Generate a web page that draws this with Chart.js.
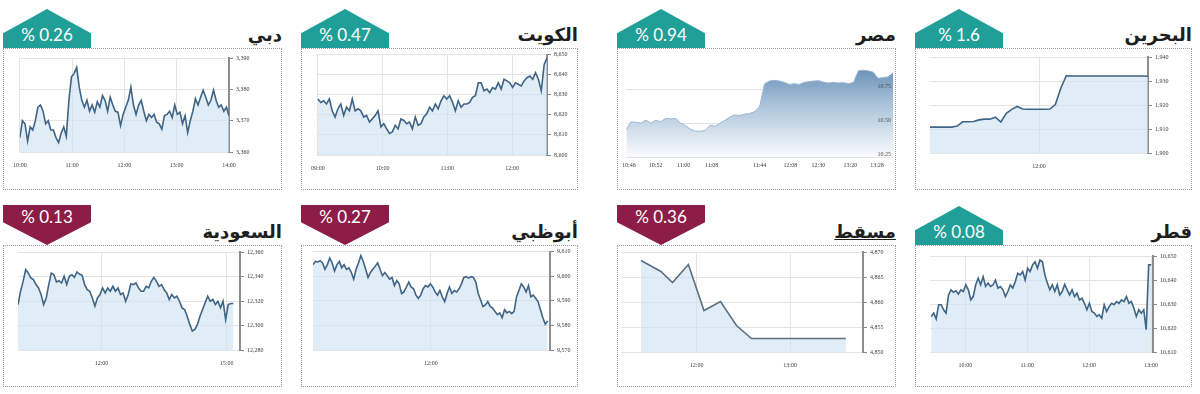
<!DOCTYPE html>
<html>
<head>
<meta charset="utf-8">
<script src="https://cdn.jsdelivr.net/npm/chart.js@4/dist/chart.umd.min.js"></script>
<style>
  body { margin: 0; width: 1200px; height: 394px; background: #fff; position: relative; overflow: hidden; }
  .box { position: absolute; border: 1px dotted #9c9c9c; box-sizing: border-box; }
  canvas.panel { position: absolute; }
  .badge { position: absolute; width: 88px; color: #fff; font: 17px Lato, sans-serif; text-align: center; direction: ltr; line-height: 18px; }
  .badge.up { height: 39px; background: #1f9f98; clip-path: polygon(0 62%, 50% 0, 100% 62%, 100% 100%, 0 100%); }
  .badge.up span { position: absolute; left: 0; right: 0; top: 17px; }
  .badge.down { height: 40px; background: #8c1d46; clip-path: polygon(0 0, 100% 0, 100% 43%, 50% 100%, 0 43%); }
  .badge.down span { position: absolute; left: 0; right: 0; top: 3px; }
  .title { position: absolute; font: bold 18px "DejaVu Sans", sans-serif; color: #1e1e1e; direction: rtl; line-height: 26px; white-space: nowrap; }
</style>
</head>
<body>
<script>
// ---- data ----
const dubaiTimes = ['10:00', '11:00', '12:00', '13:00', '14:00'];
const dubaiTicks = [3360, 3370, 3380, 3390];
const dubaiValues = [3364.6, 3370, 3369, 3363.5, 3368, 3367, 3370, 3374.3, 3375, 3373, 3369, 3370, 3367, 3367, 3364.6, 3363,
  3366, 3368, 3365, 3376.5, 3384, 3385, 3387, 3380.7, 3376.5, 3374.3, 3376.5, 3373, 3375, 3372.7, 3376, 3374.3, 3378,
  3376.5, 3373, 3377.5, 3375, 3373, 3372.7, 3368.4, 3372, 3374.3, 3376.5, 3380.7, 3375, 3372, 3375, 3376.5, 3373, 3370,
  3372, 3371, 3372, 3369.5, 3369, 3367.3, 3371.6, 3372, 3373, 3371, 3375, 3372, 3372.7, 3369, 3371.6, 3366.2, 3370, 3373,
  3377, 3375, 3377.5, 3379.7, 3377.5, 3375, 3376.5, 3379.7, 3376.5, 3374.3, 3375, 3373, 3374.3, 3371.6];

const kuwaitTimes = ['09:00', '10:00', '11:00', '12:00'];
const kuwaitTicks = [8600, 8610, 8620, 8630, 8640, 8650];
const kuwaitValues = [8627.9, 8626.2, 8627, 8625.4, 8627.9, 8622, 8618.9, 8623, 8625.4, 8619.7, 8623.8, 8622, 8627.9, 8622,
  8623, 8622, 8618.9, 8619.7, 8616.4, 8618, 8619.7, 8622, 8614, 8615.6, 8613, 8610.7, 8611.5, 8614.8, 8613, 8618, 8617.2,
  8615.6, 8616.4, 8613, 8618.9, 8614.8, 8615.6, 8618.9, 8620.5, 8623.8, 8622, 8625.4, 8623, 8627, 8629.5, 8627.9, 8629.5,
  8626.2, 8622, 8627, 8623.8, 8625.4, 8625.4, 8626.2, 8628.7, 8629.5, 8636, 8636, 8632, 8632.8, 8631.1, 8633.6, 8632.8,
  8636, 8632.8, 8637.7, 8636.9, 8636, 8633.6, 8636, 8635.2, 8634.4, 8636.9, 8638.5, 8639.3, 8637.7, 8641, 8637.7, 8632,
  8645, 8648.4];

const egyptTimes = ['10:46', '10:52', '11:00', '11:08', '11:44', '12:08', '12:30', '13:20', '13:28'];
const egyptTickPos = [1, 11, 21.5, 32, 50, 61.5, 72, 84, 94];
const egyptTicks = [10.25, 10.5, 10.75];
const egyptValues = [10.45, 10.51, 10.505, 10.5, 10.52, 10.5, 10.52, 10.51, 10.535, 10.53, 10.535, 10.5, 10.48, 10.455,
  10.44, 10.44, 10.445, 10.485, 10.475, 10.5, 10.52, 10.545, 10.56, 10.555, 10.566, 10.57, 10.585, 10.62, 10.79, 10.81,
  10.815, 10.81, 10.8, 10.785, 10.79, 10.785, 10.8, 10.805, 10.81, 10.812, 10.8, 10.795, 10.8, 10.795, 10.798, 10.79,
  10.8, 10.885, 10.89, 10.885, 10.875, 10.83, 10.835, 10.84, 10.87];

const bahrainTimes = ['12:00'];
const bahrainTicks = [1900, 1910, 1920, 1930, 1940];
const bahrainValues = [1910.8, 1910.8, 1910.8, 1910.8, 1910.8, 1911.2, 1913, 1913, 1913.1, 1913.8, 1914.1, 1914.1, 1914.9,
  1912.9, 1916.5, 1918.2, 1919.4, 1918.3, 1918.2, 1918.2, 1918.2, 1918.2, 1918.3, 1920.2, 1927, 1932.2, 1932.1, 1932.1,
  1932.1, 1932.1, 1932.1, 1932.1, 1932.1, 1932.1, 1932.1, 1932.1, 1932.1, 1932.1, 1932.1, 1932.1, 1932];

const saudiTimes = ['12:00', '15:00'];
const saudiTicks = [12280, 12300, 12320, 12340, 12360];
const saudiValues = [12317, 12328, 12336, 12345.6, 12342.9, 12338.8, 12337.5, 12333.4, 12330.7, 12325.3, 12317.1, 12322.5,
  12333.4, 12342.9, 12341.5, 12335.6, 12336.6, 12334.7, 12340.2, 12333.4, 12340.2, 12341.5, 12339.3, 12343.7, 12342,
  12341, 12333.4, 12329.3, 12328, 12322.5, 12315.8, 12322.5, 12325.3, 12330.7, 12326.6, 12330.7, 12328, 12332, 12328,
  12330.7, 12325.3, 12326.6, 12319.8, 12325.3, 12333.9, 12333.4, 12334.7, 12330.7, 12328, 12328, 12332, 12330.7, 12336.1,
  12339.3, 12336.1, 12332, 12333.4, 12329.3, 12326.6, 12321.2, 12325.3, 12322.5, 12324, 12319.8, 12314.4, 12313, 12307.6,
  12300.9, 12295.4, 12296.8, 12300.9, 12307.6, 12313, 12318.5, 12323.9, 12319.8, 12321.2, 12317.1, 12319.8, 12314.4,
  12319.8, 12304.9, 12317.1, 12317.9, 12317.9];

const abuDhabiTimes = ['12:00'];
const abuDhabiTicks = [9570, 9580, 9590, 9600, 9610];
const abuDhabiValues = [9604.7, 9606, 9605.8, 9606.3, 9605.4, 9602.8, 9604.7, 9607.4, 9605.4, 9602.1, 9604.7, 9606, 9603.4,
  9604.7, 9602.8, 9603.4, 9601.5, 9598.8, 9602.8, 9605.4, 9608.4, 9606, 9602.8, 9599.5, 9601.5, 9602.8, 9604.1, 9605.4,
  9602.8, 9600.2, 9601.5, 9600.2, 9598.8, 9599.5, 9596.2, 9598.2, 9596.9, 9592.9, 9593.6, 9595.6, 9597.6, 9595.6, 9594.9,
  9592.3, 9591, 9592.3, 9594.9, 9596.2, 9595.6, 9596.9, 9595.6, 9593.6, 9592.3, 9594.2, 9591.6, 9589.7, 9593, 9595.6, 9593,
  9594.2, 9593.6, 9594.9, 9596.9, 9599.5, 9599.8, 9599.2, 9599.8, 9599.5, 9597.6, 9593, 9590.3, 9587.7, 9588.3, 9589.7,
  9587.7, 9587, 9585.7, 9584.4, 9585.1, 9583.1, 9586.4, 9585.1, 9585.7, 9584.8, 9585.7, 9591.6, 9594.2, 9596.9, 9595.6,
  9593.6, 9596.2, 9591.6, 9592.3, 9591, 9589.7, 9586.4, 9583.1, 9580.5, 9581.8];

const muscatTimes = ['12:00', '13:00'];
const muscatTicks = [4850, 4855, 4860, 4865, 4870];
const muscatHours = [11.404, 11.617, 11.741, 11.911, 12.078, 12.255, 12.426, 12.585, 13.596];
const muscatValues = [4868.3, 4866.1, 4863.9, 4867.5, 4858.3, 4860.1, 4855.3, 4852.7, 4852.7];

const qatarTimes = ['10:00', '11:00', '12:00', '13:00'];
const qatarTicks = [10610, 10620, 10630, 10640, 10650];
const qatarValues = [10624.8, 10626.2, 10623.8, 10629.7, 10629.7, 10627.6, 10626.2, 10633.8, 10635.9, 10634.9, 10635.5,
  10634.1, 10635.9, 10635.2, 10638, 10635.9, 10631.7, 10633.1, 10638, 10640.7, 10638, 10641.4, 10637.3, 10638.7, 10637.3,
  10638, 10640, 10636.6, 10637.3, 10635.9, 10633.1, 10635.2, 10638, 10636.6, 10639.3, 10642.8, 10642.1, 10643.5, 10640,
  10644.9, 10643.5, 10646.3, 10647.6, 10644.9, 10648.3, 10647.6, 10642.1, 10638.7, 10635.9, 10638, 10635.2, 10638, 10633.8,
  10635.2, 10638.2, 10635.9, 10633.8, 10635.9, 10633.1, 10634.5, 10631.7, 10632.4, 10630.3, 10627.6, 10630.3, 10626.9,
  10626.2, 10624.8, 10625.5, 10624.1, 10629.7, 10626.9, 10628.9, 10630.3, 10629.7, 10631, 10630.3, 10631.7, 10631, 10633.1,
  10630.3, 10631, 10628.3, 10624.8, 10627.6, 10626.2, 10627.6, 10619.3, 10646.3, 10646.3];

// ---- panels: layout and styling ----
const hourTicks = labels => labels.map(t => parseInt(t, 10) + parseInt(t.slice(3), 10) / 60);

const panels = [
  { name: 'دبي', change: '0.26', up: true, box: [3, 48, 282, 190], plot: [14, 58, 229, 152], axisW: 30,
    values: dubaiValues, from: 10, to: 14, xMin: 10, xMax: 14, xLabels: dubaiTimes, yTicks: dubaiTicks },
  { name: 'الكويت', change: '0.47', up: true, box: [301, 48, 578, 190], plot: [313, 53, 547, 155], axisW: 28,
    values: kuwaitValues, from: 9, to: 12.54, xMin: 8.98, xMax: 12.54, xLabels: kuwaitTimes, yTicks: kuwaitTicks },
  { name: 'مصر', change: '0.94', up: true, box: [617, 48, 896, 190], plot: [623, 62, 893, 157], axisW: 1,
    values: egyptValues, from: 0, to: 100, xMin: 0, xMax: 100, xLabels: egyptTimes, xPos: egyptTickPos,
    yTicks: egyptTicks, yMax: 10.95, egypt: true },
  { name: 'البحرين', change: '1.6', up: true, box: [915, 48, 1192, 190], plot: [930, 57, 1148, 153], axisW: 30,
    values: bahrainValues, from: 11, to: 13, xMin: 11, xMax: 13, xLabels: bahrainTimes, yTicks: bahrainTicks },
  { name: 'السعودية', change: '0.13', up: false, box: [3, 245, 282, 387], plot: [18, 252, 240, 350], axisW: 30,
    values: saudiValues, from: 10, to: 15.16, xMin: 10, xMax: 15.32, xLabels: saudiTimes, yTicks: saudiTicks },
  { name: 'أبوظبي', change: '0.27', up: false, box: [301, 245, 578, 387], plot: [313, 248, 550, 350], axisW: 26,
    values: abuDhabiValues, from: 10, to: 13.98, xMin: 10, xMax: 14.02, xLabels: abuDhabiTimes, yTicks: abuDhabiTicks },
  { name: 'مسقط', change: '0.36', up: false, box: [617, 245, 896, 387], plot: [621, 252, 863, 352], axisW: 30,
    values: muscatValues, hours: muscatHours, xMin: 11.19, xMax: 13.78, xLabels: muscatTimes, yTicks: muscatTicks,
    lineColor: '#5b6f82', underline: true },
  { name: 'قطر', change: '0.08', up: true, box: [915, 245, 1192, 387], plot: [930, 256, 1153, 352], axisW: 32,
    values: qatarValues, from: 9.45, to: 13.0, xMin: 9.43, xMax: 13.03, xLabels: qatarTimes, yTicks: qatarTicks }
];

const tickFont = { family: '"Liberation Serif", serif', size: 6 };

// Egypt's value labels sit inside the plot, drawn over the filled area
const insideLabels = {
  id: 'insideLabels',
  afterDatasetsDraw(chart, args, opts) {
    if (!opts.values) return;
    const { ctx, chartArea, scales } = chart;
    ctx.save();
    ctx.font = tickFont.size + 'px ' + tickFont.family;
    ctx.fillStyle = '#4a4a4a';
    ctx.textAlign = 'right';
    ctx.textBaseline = 'middle';
    opts.values.forEach(v => {
      ctx.fillText(v.toFixed(2), chartArea.right - 2, scales.y.getPixelForValue(v) - 3);
    });
    ctx.restore();
  }
};

function makePanel(p) {
  const [bl, bt, br, bb] = p.box;
  const [pl, pt, pr, pb] = p.plot;
  const w = br - bl, h = bb - bt;
  const axisH = 20;

  const box = document.createElement('div');
  box.className = 'box';
  Object.assign(box.style, { left: bl + 'px', top: bt + 'px', width: w + 'px', height: h + 'px' });
  document.body.appendChild(box);

  const canvas = document.createElement('canvas');
  canvas.className = 'panel';
  canvas.width = w; canvas.height = h;
  Object.assign(canvas.style, { left: bl + 'px', top: bt + 'px', width: w + 'px', height: h + 'px' });
  document.body.appendChild(canvas);

  const badge = document.createElement('div');
  badge.className = 'badge ' + (p.up ? 'up' : 'down');
  badge.style.left = bl + 'px';
  badge.style.top = (p.up ? bt - 39 : bt - 40) + 'px';
  badge.innerHTML = '<span>% ' + p.change + '</span>';
  document.body.appendChild(badge);

  const title = document.createElement('div');
  title.className = 'title';
  title.textContent = p.name;
  title.style.right = (1200 - br) + 'px';
  title.style.top = (bt - 26) + 'px';
  if (p.underline) title.style.textDecoration = 'underline';
  document.body.appendChild(title);

  const n = p.values.length;
  const points = p.values.map((v, i) => ({
    x: p.hours ? p.hours[i] : p.from + i * (p.to - p.from) / (n - 1),
    y: v
  }));
  const xTickValues = p.xPos || hourTicks(p.xLabels);

  const fill = p.egypt
    ? (ctx) => {
        const a = ctx.chart.chartArea;
        if (!a) return 'rgba(120,155,190,0.6)';
        const g = ctx.chart.ctx.createLinearGradient(0, a.top, 0, a.bottom);
        g.addColorStop(0, 'rgba(96,135,178,1)');
        g.addColorStop(0.45, 'rgba(170,195,218,1)');
        g.addColorStop(1, 'rgba(250,251,253,1)');
        return g;
      }
    : 'rgba(205, 226, 242, 0.62)';

  new Chart(canvas.getContext('2d'), {
    type: 'line',
    data: {
      datasets: [{
        data: points,
        borderColor: p.egypt ? '#9ab6d1' : (p.lineColor || '#3f6486'),
        borderWidth: p.egypt ? 1 : 1.6,
        backgroundColor: fill,
        fill: 'start',
        pointRadius: 0,
        tension: 0
      }]
    },
    plugins: [insideLabels],
    options: {
      responsive: false,
      animation: false,
      layout: {
        padding: { left: pl - bl, top: pt - bt, right: br - pr - p.axisW, bottom: bb - pb - axisH }
      },
      plugins: {
        legend: { display: false },
        tooltip: { enabled: false },
        insideLabels: { values: p.egypt ? egyptTicks : null }
      },
      scales: {
        x: {
          type: 'linear',
          min: p.xMin,
          max: p.xMax,
          afterBuildTicks: (s) => { s.ticks = xTickValues.map(v => ({ value: v })); },
          afterFit: (s) => { s.height = axisH; },
          ticks: {
            callback: (v, i) => p.xLabels[i],
            font: tickFont,
            color: '#3a3a3a',
            padding: p.egypt ? 5 : 10,
            maxRotation: 0,
            autoSkip: false
          },
          grid: { display: !p.egypt, color: '#e4e4e4', drawTicks: false },
          border: { display: false }
        },
        y: {
          position: 'right',
          min: p.yTicks[0],
          max: p.yMax || p.yTicks[p.yTicks.length - 1],
          afterBuildTicks: (s) => { s.ticks = p.yTicks.map(v => ({ value: v })); },
          afterFit: (s) => { s.width = p.axisW; },
          ticks: {
            display: !p.egypt,
            callback: (v) => v.toLocaleString('en-US'),
            font: tickFont,
            color: '#3a3a3a',
            padding: 3
          },
          grid: {
            color: '#e4e4e4',
            tickLength: p.egypt ? 0 : 4,
            tickColor: '#8a8a8a',
            drawTicks: !p.egypt
          },
          border: { display: !p.egypt, color: '#8d8d8d', width: 2 }
        }
      }
    }
  });
}

panels.forEach(makePanel);
</script>
</body>
</html>
